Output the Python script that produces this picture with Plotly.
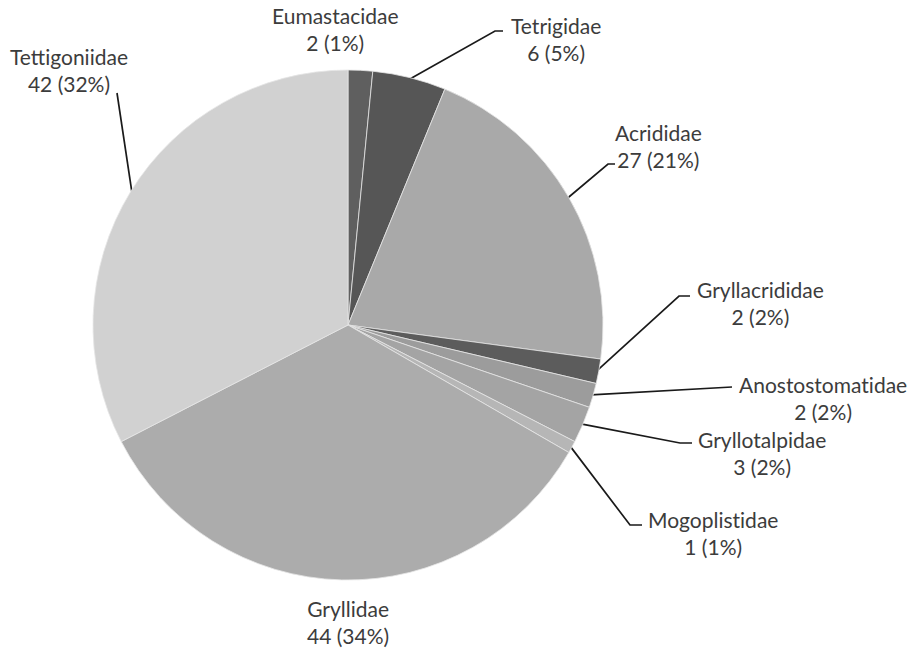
import math
import plotly.graph_objects as go

# Orthoptera families: number of species per family
families = ["Eumastacidae", "Tetrigidae", "Acrididae", "Gryllacrididae",
            "Anostostomatidae", "Gryllotalpidae", "Mogoplistidae",
            "Gryllidae", "Tettigoniidae"]
counts = [2, 6, 27, 2, 2, 3, 1, 44, 42]
pct_labels = ["1%", "5%", "21%", "2%", "2%", "2%", "1%", "34%", "32%"]

slice_colors = ["#5f5f5f", "#565656", "#a9a9a9", "#5c5c5c", "#9c9c9c",
                "#a4a4a4", "#b6b6b6", "#acacac", "#d1d1d1"]

W, H = 914, 654
CX, CY, R = 348, 325, 255  # pie centre and radius in pixels

# Label block centres (px) and leader-line routes (elbow points, px)
label_pos = {
    "Eumastacidae": (335, 29),
    "Tetrigidae": (556, 39),
    "Acrididae": (658, 146),
    "Gryllacrididae": (760, 303),
    "Anostostomatidae": (823, 398),
    "Gryllotalpidae": (762, 453),
    "Mogoplistidae": (713, 533),
    "Gryllidae": (348, 622),
    "Tettigoniidae": (69, 70),
}
leader_route = {
    "Tetrigidae": [(495, 31), (503, 31)],
    "Acrididae": [(608, 164), (615, 164)],
    "Gryllacrididae": [(679, 296), (690, 296)],
    "Anostostomatidae": [(732, 387)],
    "Gryllotalpidae": [(680, 443), (692, 443)],
    "Mogoplistidae": [(630, 525), (642, 525)],
    "Tettigoniidae": [(117, 93)],
}

fig = go.Figure()

fig.add_trace(go.Pie(
    labels=families, values=counts, sort=False, direction="clockwise",
    rotation=0, textinfo="none", hoverinfo="label+value+percent",
    marker=dict(colors=slice_colors, line=dict(color="#e6e6e6", width=0.8)),
    domain=dict(x=[(CX - R) / W, (CX + R) / W],
                y=[1 - (CY + R) / H, 1 - (CY - R) / H]),
    showlegend=False,
))

# Leader lines start on the rim at each slice's mid-angle
total = sum(counts)
cum = 0
for fam, n in zip(families, counts):
    mid = (cum + n / 2) / total * 2 * math.pi
    cum += n
    if fam not in leader_route:
        continue
    ex = CX + (R - 2) * math.sin(mid)
    ey = CY - (R - 2) * math.cos(mid)
    pts = [(ex, ey)] + leader_route[fam]
    fig.add_trace(go.Scatter(
        x=[p[0] for p in pts], y=[p[1] for p in pts], mode="lines",
        line=dict(color="#1a1a1a", width=1.7), hoverinfo="skip",
        showlegend=False,
    ))

for fam, n, p in zip(families, counts, pct_labels):
    x, y = label_pos[fam]
    # zero-width non-joiner keeps "ti" from forming a ligature
    name = fam.replace("ti", "t\u200ci")
    fig.add_annotation(
        x=x, y=y, xref="x", yref="y", text=f"{name}<br>{n} ({p})",
        showarrow=False, align="center", xanchor="center", yanchor="middle",
        font=dict(family="Lato", size=21, color="#3c3c3c"),
    )

fig.update_layout(
    width=W, height=H, margin=dict(l=0, r=0, t=0, b=0),
    paper_bgcolor="white", plot_bgcolor="rgba(0,0,0,0)",
    xaxis=dict(range=[0, W], visible=False, fixedrange=True),
    yaxis=dict(range=[H, 0], visible=False, fixedrange=True),
)

fig.write_html("out.html")
